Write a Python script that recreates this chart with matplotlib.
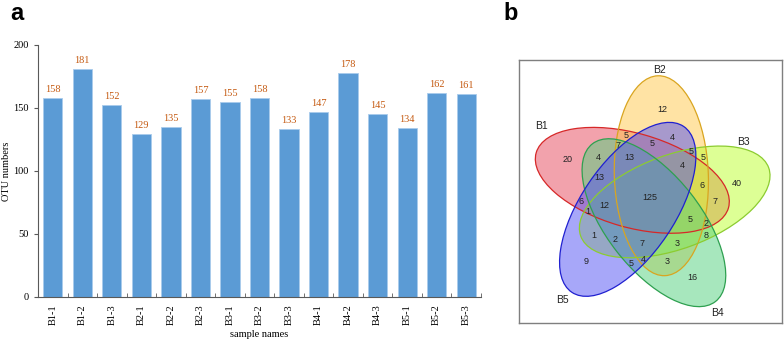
import numpy as np
import matplotlib
matplotlib.use("Agg")
import matplotlib.pyplot as plt
from matplotlib.patches import Ellipse

# panel a data
samples = ["B1-1", "B1-2", "B1-3", "B2-1", "B2-2", "B2-3", "B3-1", "B3-2",
           "B3-3", "B4-1", "B4-2", "B4-3", "B5-1", "B5-2", "B5-3"]
otu_counts = [158, 181, 152, 129, 135, 157, 155, 158, 133, 147, 178, 145, 134, 162, 161]

# panel b data
set_names = ["B1", "B2", "B3", "B4", "B5"]
region_counts = [20, 4, 7, 5, 13, 13, 12, 4, 5, 5, 5, 4, 6, 40, 7, 125,
                 6, 12, 1, 1, 2, 7, 9, 5, 4, 5, 2, 8, 3, 3, 16]

# layout (pixel positions in the venn box)
region_xy = [(568, 159), (598, 157), (618, 145), (626, 135), (629, 157), (599, 178),
             (662, 110), (672, 137), (652, 144), (691, 152), (703, 157), (682, 166),
             (702, 185), (737, 183), (715, 202), (650, 198), (581, 202), (604, 205),
             (588, 212), (594, 235), (615, 240), (642, 243), (586, 262), (631, 264),
             (643, 260), (690, 219), (706, 223), (706, 236), (677, 243), (667, 261),
             (692, 277)]
name_xy = [(542, 126), (660, 70), (743, 142), (717, 313), (562, 300)]
fills = ["#e7475a", "#ffc94b", "#bdff2d", "#51d17d", "#5151f5"]
edges = ["#d62828", "#d9a520", "#8ccc30", "#2ea050", "#2020d0"]
steps = [1, 0, 4, 3, 2]  # rotation step (x72 deg) of each set from B2

serif = "Liberation Serif"
sans = "Liberation Sans"

fig = plt.figure(figsize=(7.84, 3.39), dpi=100)

# ---- panel a ----
ax = fig.add_axes([0.0485, 0.1239, 0.5650, 0.7434])
x = np.arange(len(samples))
ax.bar(x, otu_counts, width=0.65, color="#5b9bd5", edgecolor="#a9cbec", linewidth=0.6)
for xi, v in zip(x, otu_counts):
    ax.annotate(str(v), (xi, v), xytext=(0, 3), textcoords="offset points",
                ha="center", va="bottom", fontsize=7.5, color="#c55a11", family=serif)
ax.set_xlim(-0.5, len(samples) - 0.5)
ax.set_ylim(0, 200)
ax.set_yticks([0, 50, 100, 150, 200])
ax.set_xticks(x)
ax.set_xticklabels(samples, rotation=90, family=serif, fontsize=7.5)
ax.set_xticks(np.arange(0.5, len(samples), 1.0), minor=True)
ax.tick_params(axis="x", which="major", length=0, pad=5)
ax.tick_params(axis="x", which="minor", length=3, direction="in", color="#595959")
ax.tick_params(axis="y", length=3, color="#595959", labelsize=7.5)
for lab in ax.get_yticklabels():
    lab.set_family(serif)
for s in ["top", "right"]:
    ax.spines[s].set_visible(False)
for s in ["left", "bottom"]:
    ax.spines[s].set_color("#595959")
ax.set_ylabel("OTU numbers", family=serif, fontsize=7.5)
ax.yaxis.set_label_coords(-0.061, 0.5)
ax.set_xlabel("sample names", family=serif, fontsize=7.5, labelpad=4)

fig.text(10 / 784, 1 - 13 / 339, "a", fontsize=17, fontweight="bold", family=sans,
         ha="left", va="center")
fig.text(503 / 784, 1 - 13 / 339, "b", fontsize=17, fontweight="bold", family=sans,
         ha="left", va="center")

# ---- panel b ----
vx = fig.add_axes([519 / 784, 1 - 323 / 339, 263 / 784, 263 / 339])
vx.set_xlim(519, 782)
vx.set_ylim(323, 60)
vx.set_xticks([])
vx.set_yticks([])
for s in vx.spines.values():
    s.set_color("#7f7f7f")
    s.set_linewidth(1.0)

cx, cy = 650, 198
dist, major, minor = 25, 200, 94
for k, fc in zip(steps, fills):
    a = np.radians(63 + 72 * k)
    e = Ellipse((cx + dist * np.cos(a), cy - dist * np.sin(a)), major, minor,
                angle=-(92 + 72 * k), facecolor=fc, alpha=0.5, edgecolor="none")
    vx.add_patch(e)
for k, ec in zip(steps, edges):
    a = np.radians(63 + 72 * k)
    e = Ellipse((cx + dist * np.cos(a), cy - dist * np.sin(a)), major, minor,
                angle=-(92 + 72 * k), facecolor="none", edgecolor=ec, linewidth=0.9)
    vx.add_patch(e)

for (px, py), n in zip(region_xy, region_counts):
    vx.text(px, py, str(n), ha="center", va="center", fontsize=6.5, family=sans, color="#222222")
for (px, py), name in zip(name_xy, set_names):
    vx.text(px, py, name, ha="center", va="center", fontsize=7.5, family=sans, color="#222222")

fig.savefig("out.png", dpi=100)
